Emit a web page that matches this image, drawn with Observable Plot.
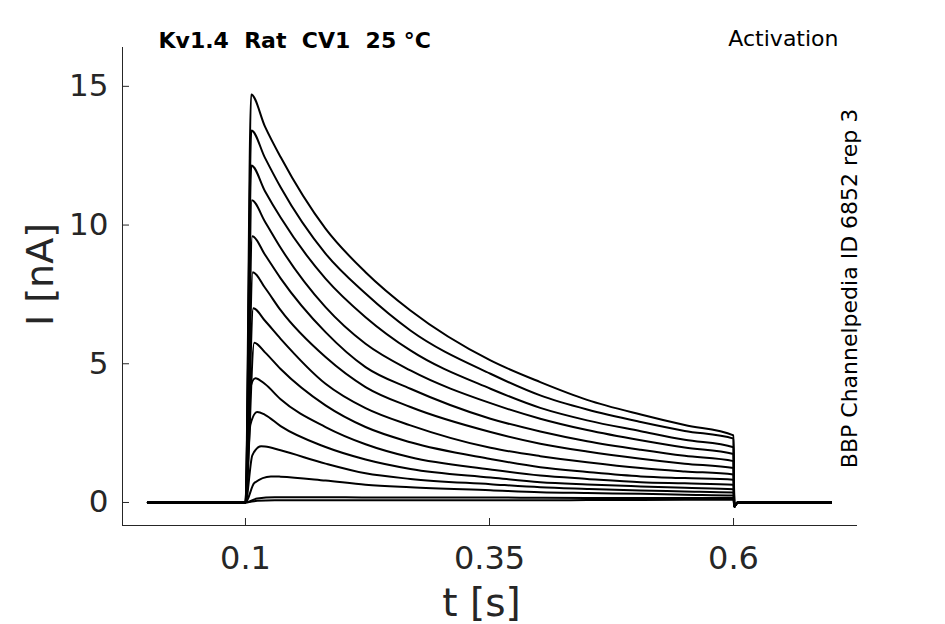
<!DOCTYPE html>
<html><head><meta charset="utf-8">
<script src="https://cdn.jsdelivr.net/npm/d3@7"></script>
<script src="https://cdn.jsdelivr.net/npm/@observablehq/plot@0.6"></script>
<style>
html,body{margin:0;padding:0;background:#fff;}
svg text{white-space:pre;}
</style></head><body><div id="chart"></div>
<script>
const sampleTimes = [0.12, 0.136, 0.182, 0.223, 0.269, 0.351, 0.402, 0.45, 0.505, 0.55, 0.6];
// peak of each trace
const peakTimes  = [0.1058, 0.106, 0.106, 0.1065, 0.107, 0.1075, 0.108, 0.109, 0.110, 0.112, 0.116, 0.126, 0.13, 0.13];
const peakValues = [14.71, 13.41, 12.15, 10.89, 9.60, 8.30, 7.00, 5.76, 4.48, 3.26, 2.03, 0.94, 0.19, 0.08];
// intermediate point on the rising phase (only for the slower, smaller traces)
const riseTimes  = [null, null, null, null, null, null, null, null, 0.104, 0.105, 0.107, 0.109, 0.112, 0.112];
const riseValues = [null, null, null, null, null, null, null, null, 4.0, 2.8, 1.7, 0.7, 0.14, 0.06];
// current (nA) of each trace at sampleTimes (values before the peak time are skipped)
const traceValues = [
  [13.55, 12.45, 9.87, 8.30, 6.92, 5.12, 4.34, 3.70, 3.17, 2.79, 2.42],
  [12.42, 11.36, 8.97, 7.53, 6.20, 4.64, 3.86, 3.35, 2.90, 2.58, 2.30],
  [11.22, 10.27, 8.07, 6.68, 5.48, 4.10, 3.41, 2.96, 2.57, 2.26, 1.99],
  [10.12, 9.18, 7.04, 5.72, 4.76, 3.58, 3.02, 2.61, 2.24, 1.98, 1.75],
  [8.93, 8.08, 6.14, 4.88, 4.10, 3.02, 2.56, 2.21, 1.90, 1.68, 1.49],
  [7.74, 6.93, 5.24, 4.16, 3.44, 2.54, 2.12, 1.84, 1.58, 1.40, 1.24],
  [6.55, 5.90, 4.28, 3.40, 2.78, 1.97, 1.67, 1.45, 1.24, 1.12, 1.01],
  [5.41, 4.81, 3.50, 2.72, 2.17, 1.57, 1.27, 1.10, 0.94, 0.88, 0.82],
  [4.27, 3.72, 2.72, 2.10, 1.63, 1.19, 0.97, 0.85, 0.73, 0.69, 0.64],
  [3.16, 2.75, 2.00, 1.55, 1.21, 0.90, 0.73, 0.65, 0.58, 0.53, 0.48],
  [2.02, 1.88, 1.40, 1.05, 0.85, 0.66, 0.55, 0.49, 0.43, 0.40, 0.36],
  [0.92, 0.93, 0.79, 0.64, 0.55, 0.44, 0.37, 0.34, 0.31, 0.28, 0.25],
  [0.17, 0.19, 0.19, 0.18, 0.18, 0.18, 0.17, 0.165, 0.165, 0.16, 0.16],
  [0.07, 0.08, 0.08, 0.08, 0.08, 0.08, 0.08, 0.085, 0.09, 0.095, 0.10]
];
const recordStart = 0, stepOn = 0.1, stepOff = 0.6, recordEnd = 0.7;
const tailDipTime = 0.6008, tailDipValue = -0.15, tailEndTime = 0.604;
const xTicks = [0.1, 0.35, 0.6];
const xTickLabels = ["0.1", "0.35", "0.6"];
const yTicks = [0, 5, 10, 15];
const xDomain = [-0.026, 0.726];
const yDomain = [-0.83, 16.4];

const rows = [];
traceValues.forEach((vals, k) => {
  const pts = [];
  const push = (t, I) => pts.push({trace: k, t, I});
  push(recordStart, 0);
  push(stepOn, 0);
  if (riseTimes[k] !== null) push(riseTimes[k], riseValues[k]);
  push(peakTimes[k], peakValues[k]);
  sampleTimes.forEach((t, j) => { if (t > peakTimes[k]) push(t, vals[j]); });
  push(tailDipTime, tailDipValue);
  push(tailEndTime, 0);
  push(recordEnd, 0);
  pts.sort((a, b) => a.t - b.t);
  rows.push(...pts);
});

const axisColor = "#262626";
const chart = Plot.plot({
  width: 945, height: 624,
  marginLeft: 122, marginRight: 89, marginTop: 47, marginBottom: 99,
  style: {fontFamily: "DejaVu Sans", background: "white", color: axisColor, overflow: "visible"},
  x: {domain: xDomain},
  y: {domain: yDomain},
  marks: [
    Plot.frame({anchor: "left", stroke: axisColor}),
    Plot.frame({anchor: "bottom", stroke: axisColor}),
    Plot.axisY(yTicks, {tickSize: -7, fill: "none", stroke: axisColor}),
    Plot.axisX(xTicks, {tickSize: -7, fill: "none", stroke: axisColor}),
    Plot.axisY(yTicks, {tickSize: 0, tickPadding: 14, fontSize: 31, label: null, fill: axisColor}),
    Plot.axisX(xTicks, {tickSize: 0, tickPadding: 21, fontSize: 32, label: null, fill: axisColor,
      tickFormat: d => xTickLabels[xTicks.indexOf(d)]}),
    Plot.line(rows, {x: "t", y: "I", z: "trace", stroke: "black", strokeWidth: 2, curve: "monotone-x"}),
    Plot.text(["I [nA]"], {frameAnchor: "left", dx: -82, dy: -12, rotate: -90, textAnchor: "middle", lineAnchor: "middle", fontSize: 38, fill: axisColor}),
    Plot.text(["t [s]"], {frameAnchor: "bottom", dx: -8, dy: 78, textAnchor: "middle", lineAnchor: "middle", fontSize: 39, fill: axisColor}),
    Plot.text(["Kv1.4  Rat  CV1  25 °C"], {frameAnchor: "top-left", dx: 36, dy: -7, textAnchor: "start", lineAnchor: "middle", fontWeight: "bold", fontSize: 22, fill: "black"}),
    Plot.text(["Activation"], {frameAnchor: "top-right", dx: -18, dy: -9, textAnchor: "end", lineAnchor: "middle", fontSize: 22, fill: "black"}),
    Plot.text(["BBP Channelpedia ID 6852 rep 3"], {frameAnchor: "right", dx: -7, dy: 2, rotate: -90, textAnchor: "middle", lineAnchor: "middle", fontSize: 22, fill: "black"})
  ]
});
document.getElementById("chart").appendChild(chart);
</script></body></html>
